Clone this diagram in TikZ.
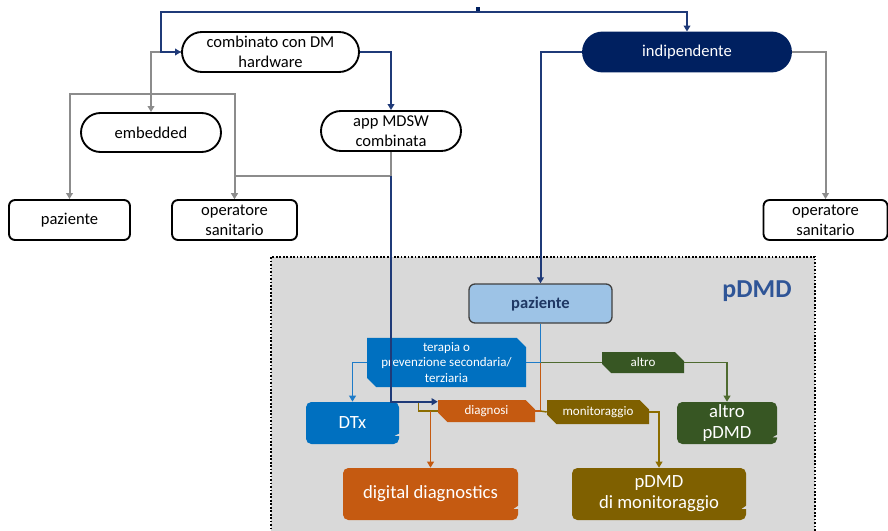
\documentclass[tikz,border=0pt]{standalone}
\usepackage{fontspec}
\setmainfont{Carlito}
\usetikzlibrary{arrows.meta,shapes.misc,calc}

\definecolor{navyfill}{HTML}{002060}
\definecolor{navyline}{HTML}{1F3A78}
\definecolor{greyline}{HTML}{8C8C8C}
\definecolor{panelgrey}{HTML}{D9D9D9}
\definecolor{pzfill}{HTML}{9DC3E6}
\definecolor{pztext}{HTML}{1F3864}
\definecolor{titleblue}{HTML}{2F5597}
\definecolor{tblue}{HTML}{0070C0}
\definecolor{tblueline}{HTML}{1E7BC8}
\definecolor{dorange}{HTML}{C55A11}
\definecolor{dbrown}{HTML}{7F6000}
\definecolor{dbrownline}{HTML}{8C6D00}
\definecolor{dgreen}{HTML}{375623}
\definecolor{dgreenline}{HTML}{4F6B30}

\newcommand\mainsz{\fontsize{12.4}{15}\selectfont}
\newcommand\tagsz{\fontsize{9.75}{11.6}\selectfont}
\newcommand\cardsz{\fontsize{14}{15.75}\selectfont}

% small triangular bite in the lower right edge of a card
\newcommand\cardnotch[3]{%
  \fill[panelgrey] ($(#1.south east)+(0.8,-#2)$) -- ($(#1.south east)+(-4.5,-#3)$)
    -- ($(#1.south east)+(0.8,-#3)$) -- cycle;}

\begin{document}
\begin{tikzpicture}[x=0.75pt,y=-0.75pt,
  pill/.style={rounded rectangle, draw=black, line width=1.4pt, fill=white,
    align=center, inner sep=0pt, font=\mainsz},
  leaf/.style={rectangle, rounded corners=4.5pt, draw=black, line width=1.4pt,
    fill=white, align=center, inner sep=0pt, font=\mainsz},
  tag/.style={chamfered rectangle, chamfered rectangle corners={north east,south west},
    chamfered rectangle xsep=3.5pt, chamfered rectangle ysep=3.5pt,
    inner sep=0pt, text=white, font=\tagsz, align=center},
  card/.style={rectangle, rounded corners=4pt, inner sep=0pt, text=white,
    font=\cardsz, align=center},
  arr/.style={-{Triangle[width=5pt,length=4.5pt]}},
  navy/.style={draw=navyline, line width=1.5pt},
  grey/.style={draw=greyline, line width=1.5pt},
  thin/.style={line width=1.1pt}]

\clip (0,0) rectangle (888,531);

% pDMD panel (its lower edge runs past the page)
\node[fill=panelgrey, draw=black, line width=1.5pt, dash pattern=on 1.3pt off 1.3pt,
  minimum width=408pt, minimum height=216pt, inner sep=0pt] (panel) at (543,401) {};
\node[font=\fontsize{19.4}{22}\selectfont\bfseries, text=titleblue] (title) at (757,291) {pDMD};

% upper tree
\coordinate (root) at (478,12);
\node[pill, minimum width=132.75pt, minimum height=30pt] (comb) at (270.5,52) {combinato con DM\\hardware};
\node[pill, minimum width=105pt, minimum height=29.25pt] (emb) at (151,132.5) {embedded};
\node[pill, minimum width=105pt, minimum height=30pt] (app) at (391,131) {app MDSW\\combinata};
\node[leaf, minimum width=90.75pt, minimum height=30pt] (pazL) at (69.5,220) {paziente};
\node[leaf, minimum width=93.75pt, minimum height=30pt] (opL) at (234.5,220) {operatore\\sanitario};
\node[leaf, minimum width=93pt, minimum height=30pt] (opR) at (825.5,220) {operatore\\sanitario};
\node[pill, draw=navyfill, fill=navyfill, text=white, minimum width=156pt, minimum height=29.25pt] (ind) at (687,52) {indipendente};

% inside the panel
\node[rectangle, rounded corners=4.5pt, draw=black!75, line width=1pt, fill=pzfill,
  text=pztext, font=\mainsz\bfseries, inner sep=0pt,
  minimum width=107.25pt, minimum height=29.25pt] (paz) at (540.5,303.5) {paziente};
\node[tag, fill=tblue, minimum width=119.25pt, minimum height=35.25pt] (ter) at (446.5,362.5)
  {terapia o\\prevenzione secondaria/\\terziaria};
\node[tag, fill=dorange, minimum width=72.75pt, minimum height=16.5pt] (diag) at (486.5,411) {diagnosi};
\node[tag, fill=dbrown, minimum width=76.5pt, minimum height=18pt] (mon) at (598,412) {monitoraggio};
\node[tag, fill=dgreen, minimum width=61.5pt, minimum height=15.75pt] (alt) at (643,362.5) {altro};

\node[card, fill=tblue, minimum width=69.75pt, minimum height=31.5pt] (dtx) at (352.5,423) {DTx};
\node[card, fill=dorange, minimum width=131.25pt, minimum height=39pt] (dd) at (430.5,494) {digital diagnostics};
\node[card, fill=dbrown, minimum width=130.5pt, minimum height=39pt] (monp) at (659,494) {pDMD\\di monitoraggio};
\node[card, fill=dgreen, minimum width=75pt, minimum height=31.5pt] (altp) at (727,423) {altro\\pDMD};
\cardnotch{dtx}{11}{8.5}
\cardnotch{dd}{15}{11.5}
\cardnotch{monp}{15}{11.5}
\cardnotch{altp}{10}{7}

% grey connectors of the upper tree
\coordinate (split) at (151,94);
\coordinate (appj) at ($(app.south)+(0,24)$);
\draw[grey,arr] (comb.west) -| (emb.north);
\draw[grey,arr] (split) -| (pazL.north);
\draw[grey,arr] (split) -| (opL.north);
\draw[grey,arr] (app.south) -- (appj) -| (opL.north);
\draw[grey,arr] (ind.east) -| (opR.north);

% navy connectors
\draw[navyfill, line width=2.6pt] (root) -- ++(0,-4.5);
\draw[navy,arr] (root) -| (ind.north);
\draw[navy,arr] (root) -| ($(comb.west)+(-20,0)$) -- (comb.west);
\draw[navy,arr] (comb.east) -| (app.north);
\draw[navy,arr] (ind.west) -| (paz.north);

% branches below paziente
\coordinate (j1) at (paz.south |- ter.east);
\coordinate (j2) at (paz.south |- diag.east);
\draw[thin, draw=tblueline] (paz.south) -- (j1) -- (ter.east);
\draw[thin, draw=tblueline, arr] (ter.west) -| (dtx.north);
\draw[thin, draw=dgreenline] (j1) -- (alt.west);
\draw[thin, draw=dgreenline, arr] (alt.east) -| (altp.north);
\draw[thin, draw=dorange] (j1) -- (j2) -- (diag.east);
\draw[thin, draw=dbrownline] (j2) -- (mon.west);
\draw[thin, draw=dbrownline, arr] (mon.east) -| (monp.north);
\draw[thin, draw=dbrownline] (diag.west) -- ++(-19,0) -- ++(0,-10);
\draw[thin, draw=dorange, arr] (dd.north |- diag.west) -- (dd.north);

% combined app reaching diagnosi
\draw[navy,arr] (appj) |- ($(diag.north west)+(0,2)$);
\end{tikzpicture}
\end{document}
